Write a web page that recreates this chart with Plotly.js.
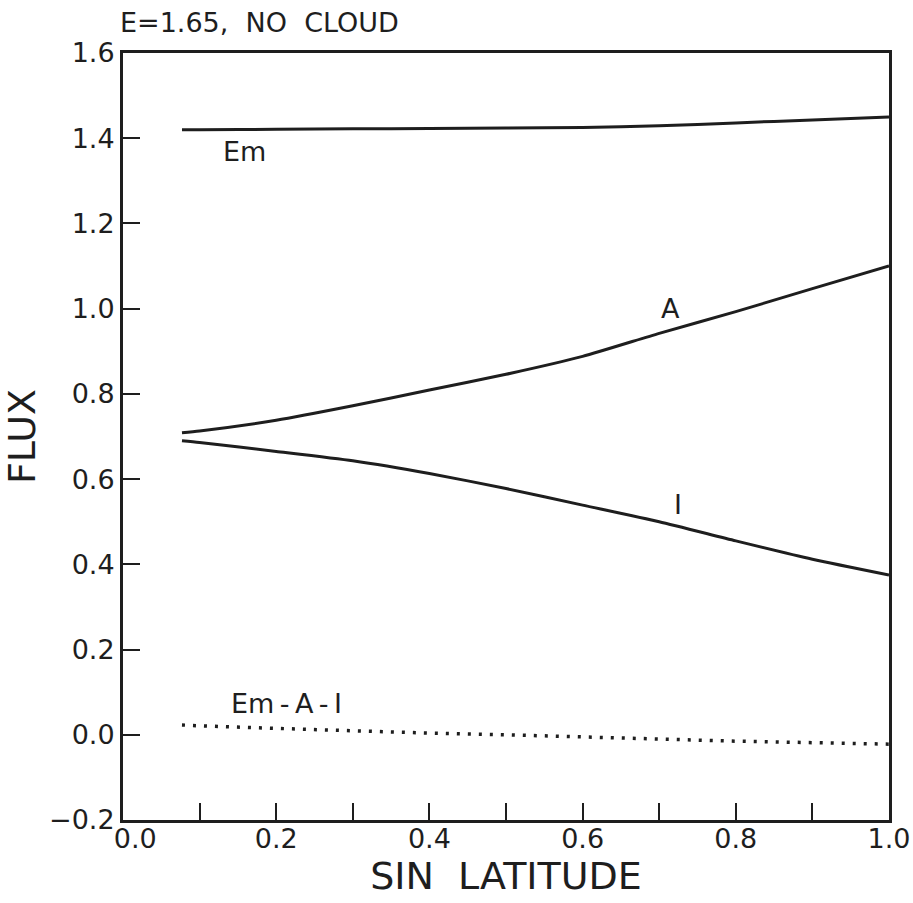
<!DOCTYPE html>
<html>
<head>
<meta charset="utf-8">
<script src="https://cdn.plot.ly/plotly-3.0.1.min.js"></script>
<style>html,body{margin:0;padding:0;background:#fff;}#chart{width:913px;height:903px;}</style>
</head>
<body>
<div id="chart"></div>
<script>
// Data
const sinLat = [0.077, 0.1, 0.2, 0.3, 0.4, 0.5, 0.6, 0.7, 0.8, 0.9, 1.0];
const fluxEm = [1.420, 1.420, 1.421, 1.422, 1.423, 1.424, 1.425, 1.429, 1.436, 1.443, 1.450];
const fluxA  = [0.709, 0.713, 0.738, 0.772, 0.809, 0.846, 0.888, 0.942, 0.993, 1.047, 1.100];
const fluxI  = [0.690, 0.686, 0.665, 0.643, 0.613, 0.578, 0.539, 0.500, 0.455, 0.412, 0.375];
const fluxRes = [0.023, 0.021, 0.015, 0.009, 0.004, 0.000, -0.006, -0.010, -0.015, -0.019, -0.022];

const xTickVals = [0.1, 0.2, 0.3, 0.4, 0.5, 0.6, 0.7, 0.8, 0.9];
const xLabelVals = [0.0, 0.2, 0.4, 0.6, 0.8, 1.0];
const xLabelText = ["0.0", "0.2", "0.4", "0.6", "0.8", "1.0"];
const yTickVals = [-0.2, 0.0, 0.2, 0.4, 0.6, 0.8, 1.0, 1.2, 1.4, 1.6];
const yTickText = ["\u22120.2", "0.0", "0.2", "0.4", "0.6", "0.8", "1.0", "1.2", "1.4", "1.6"];

const ink = "#1e1e1e";
const fontFam = "DejaVu Sans, Liberation Sans, sans-serif";

const lineStyle = {color: ink, width: 3, shape: "spline", smoothing: 0.6};

// In the original the corner label "0.0" sits a little right of the axis corner, clear of "-0.2"
const xLabelPos = xLabelVals.map(v => (v === 0 ? v + 0.016 : v));

const traces = [
  {x: sinLat, y: fluxEm, mode: "lines", line: lineStyle, hoverinfo: "skip"},
  {x: sinLat, y: fluxA, mode: "lines", line: lineStyle, hoverinfo: "skip"},
  {x: sinLat, y: fluxI, mode: "lines", line: lineStyle, hoverinfo: "skip"},
  {x: sinLat, y: fluxRes, mode: "lines", line: {color: ink, width: 3.5, dash: "3px,8px"}, hoverinfo: "skip"},
  // carrier for the labelled x axis (labels only)
  {x: xLabelVals, y: xLabelVals.map(() => null), xaxis: "x2", mode: "markers", hoverinfo: "skip"}
];

const labelFont = {size: 27, family: fontFam, color: ink};
const thin = "\u2009";

const layout = {
  width: 913, height: 903,
  margin: {l: 123, r: 24, t: 53, b: 83},
  paper_bgcolor: "#ffffff", plot_bgcolor: "#ffffff",
  showlegend: false,
  font: {family: fontFam, color: ink},
  title: {text: "E=1.65,  NO  CLOUD", x: 120/913, xanchor: "left", y: 1 - 23/903, yanchor: "middle",
          font: {size: 27, family: fontFam, color: ink}},
  xaxis: {
    range: [0, 1.0], showgrid: false, zeroline: false,
    showline: true, linewidth: 3, linecolor: ink, mirror: true,
    ticks: "inside", ticklen: 17, tickwidth: 2, tickcolor: ink,
    tickmode: "array", tickvals: xTickVals, ticktext: xTickVals.map(() => ""),
    title: {text: ""}
  },
  xaxis2: {
    overlaying: "x", anchor: "y", range: [0, 1.0], showgrid: false, zeroline: false,
    showline: false, ticks: "", side: "bottom",
    tickmode: "array", tickvals: xLabelPos, ticktext: xLabelText,
    tickfont: {size: 27, family: fontFam, color: ink},
    title: {text: "SIN  LATITUDE", font: {size: 38, family: fontFam, color: ink}, standoff: 8}
  },
  yaxis: {
    range: [-0.2, 1.6], showgrid: false, zeroline: false,
    showline: true, linewidth: 3, linecolor: ink, mirror: true,
    ticks: "inside", ticklen: 17, tickwidth: 2, tickcolor: ink,
    tickmode: "array", tickvals: yTickVals, ticktext: yTickText,
    tickfont: {size: 27, family: fontFam, color: ink},
    title: {text: "FLUX", font: {size: 38, family: fontFam, color: ink}, standoff: 12}
  },
  annotations: [
    {x: 0.158, y: 1.368, text: "Em", showarrow: false, xanchor: "center", yanchor: "middle", font: labelFont},
    {x: 0.715, y: 1.0, text: "A", showarrow: false, xanchor: "center", yanchor: "middle", font: labelFont},
    {x: 0.725, y: 0.541, text: "I", showarrow: false, xanchor: "center", yanchor: "middle", font: labelFont},
    {x: 0.213, y: 0.074, text: "Em" + thin + "-" + thin + "A" + thin + "-" + thin + "I", showarrow: false, xanchor: "center", yanchor: "middle", font: labelFont}
  ]
};

Plotly.newPlot("chart", traces, layout, {staticPlot: true, displayModeBar: false});
</script>
</body>
</html>
